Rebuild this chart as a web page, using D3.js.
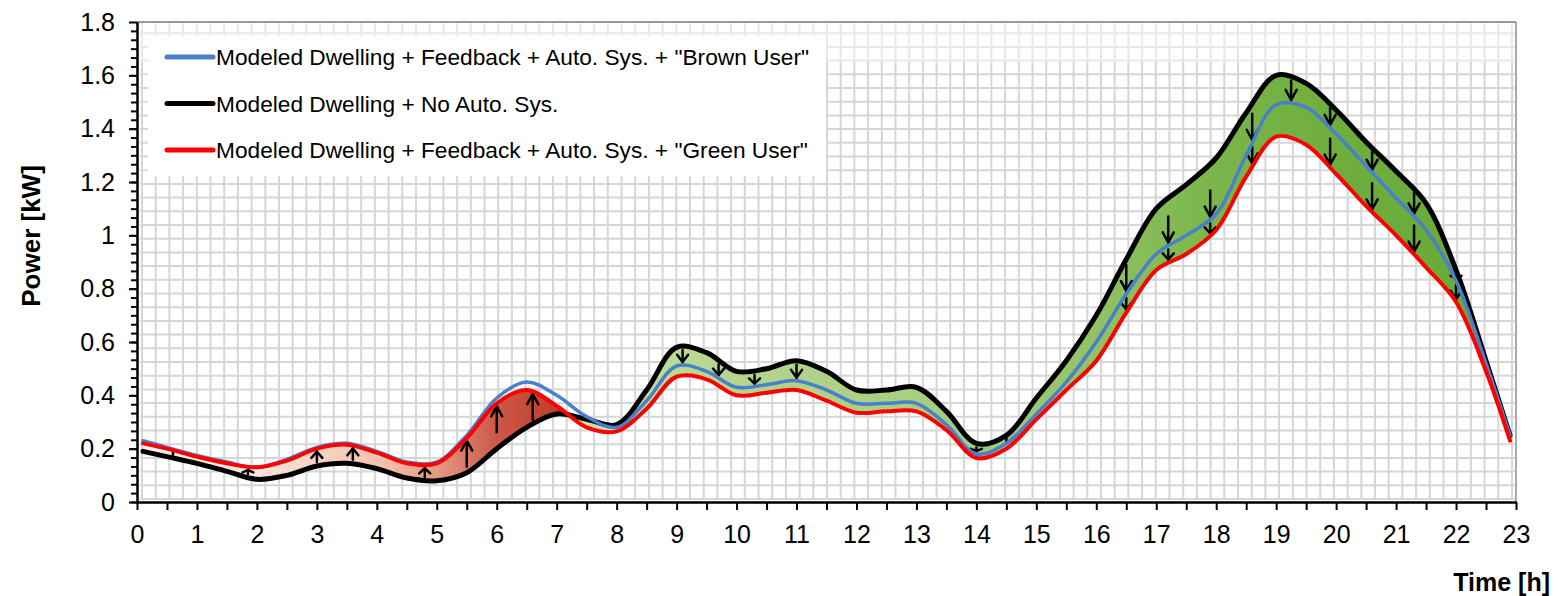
<!DOCTYPE html>
<html><head>
<meta charset="utf-8">
<script src="https://d3js.org/d3.v7.min.js"></script>
<style>
  body { margin: 0; background: #fff; }
  svg text { font-family: "Liberation Sans", Arial, sans-serif; fill: #000; }
  .axis .domain { stroke: #000; stroke-width: 2; }
  .axis line { stroke: #000; stroke-width: 2; }
  .axis text { font-size: 25px; }
  .paper line { stroke: #d6d6d6; stroke-width: 2; }
</style>
</head>
<body>
<svg id="chart" width="1558" height="596"></svg>
<script>

// --- data
const hours = [0.1, 0.5, 1, 1.5, 2, 2.5, 3, 3.5, 4, 4.5, 5, 5.5, 6, 6.5, 7, 7.5, 8, 8.5, 9, 9.5,
               10, 10.5, 11, 11.5, 12, 12.5, 13, 13.5, 14, 14.5, 15, 15.5, 16, 16.5, 17, 17.5,
               18, 18.5, 19, 19.5, 20, 20.5, 21, 21.5, 22, 22.5, 22.9];

// Modeled Dwelling + No Auto. Sys.
const noAuto = [0.19, 0.17, 0.145, 0.115, 0.085, 0.10, 0.135, 0.145, 0.125, 0.09, 0.08, 0.11, 0.20, 0.28, 0.33, 0.31,
                0.29, 0.42, 0.58, 0.56, 0.49, 0.50, 0.53, 0.49, 0.42, 0.42, 0.43, 0.34, 0.22, 0.25, 0.39, 0.53,
                0.70, 0.91, 1.10, 1.19, 1.29, 1.46, 1.60, 1.57, 1.47, 1.35, 1.24, 1.12, 0.87, 0.53, 0.25];

// ... + Feedback + Auto. Sys. + "Brown User"
const brownUser = [0.23, 0.205, 0.175, 0.15, 0.13, 0.16, 0.205, 0.22, 0.19, 0.15, 0.15, 0.25, 0.39, 0.45, 0.40, 0.32,
                   0.28, 0.38, 0.51, 0.49, 0.43, 0.44, 0.455, 0.42, 0.37, 0.37, 0.37, 0.29, 0.18, 0.22, 0.33, 0.45,
                   0.60, 0.78, 0.93, 1.00, 1.08, 1.30, 1.49, 1.48, 1.38, 1.26, 1.14, 1.02, 0.83, 0.52, 0.25];

// ... + Feedback + Auto. Sys. + "Green User"
const greenUser = [0.22, 0.20, 0.17, 0.145, 0.13, 0.155, 0.20, 0.215, 0.185, 0.145, 0.145, 0.24, 0.37, 0.42, 0.36, 0.28,
                   0.265, 0.35, 0.47, 0.46, 0.40, 0.41, 0.42, 0.38, 0.335, 0.34, 0.34, 0.27, 0.165, 0.20, 0.31, 0.42,
                   0.53, 0.71, 0.87, 0.93, 1.02, 1.22, 1.37, 1.34, 1.23, 1.11, 1.00, 0.88, 0.75, 0.49, 0.23];

const legendLabels = ['Modeled Dwelling + Feedback + Auto. Sys. + "Brown User"',
                      'Modeled Dwelling + No Auto. Sys.',
                      'Modeled Dwelling + Feedback + Auto. Sys. + "Green User"'];

const xTicks = d3.range(0, 24);                       // 0 .. 23
const xTickLabels = xTicks.map(String);
const yTicks = [0, 0.2, 0.4, 0.6, 0.8, 1, 1.2, 1.4, 1.6, 1.8];
const yTickLabels = ["0", "0.2", "0.4", "0.6", "0.8", "1", "1.2", "1.4", "1.6", "1.8"];

// arrow positions (hours)
const upArrows = [0.6, 1.85, 3.0, 3.6, 4.8, 5.5, 6.0, 6.6];
const downArrowsUpper = [9.1, 9.7, 10.3, 11.0, 14.0, 14.5, 16.5, 17.2, 17.9, 18.6, 19.25, 19.9, 20.6, 21.3, 22.0];
const downArrowsLower = [16.5, 17.2, 17.9, 18.6, 19.9, 20.6, 21.3, 22.0];

// --- setup
const svg = d3.select('svg#chart');
const margins = {top: 22, right: 42, bottom: 94, left: 137};
const width = +svg.attr('width');
const height = +svg.attr('height');

const xScale = d3.scaleLinear().domain([0, 23]).range([margins.left, width - margins.right]);
const yScale = d3.scaleLinear().domain([0, 1.8]).range([height - margins.bottom, margins.top]);

const x0 = xScale(0), x1 = xScale(23), yTop = yScale(1.8), yBot = yScale(0);

// graph paper background
const paper = svg.append('g').attr('class', 'paper');
const step = 13.7;
d3.range(x0 + 5, x1, step).forEach(px => {
  paper.append('line').attr('x1', px).attr('x2', px).attr('y1', yTop).attr('y2', yBot - 2);
});
d3.range(yBot - 3, yTop, -step).forEach(py => {
  paper.append('line').attr('x1', x0 + 3).attr('x2', x1).attr('y1', py).attr('y2', py);
});
// lighter band at top
svg.append('rect').attr('x', x0 + 2).attr('y', yTop).attr('width', x1 - x0 - 2).attr('height', 40)
   .attr('fill', '#fff').attr('opacity', 0.45);

// frame (top and right)
svg.append('line').attr('x1', x0).attr('x2', x1).attr('y1', yTop).attr('y2', yTop)
   .attr('stroke', '#999').attr('stroke-width', 2);
svg.append('line').attr('x1', x1).attr('x2', x1).attr('y1', yTop).attr('y2', yBot)
   .attr('stroke', '#aaa').attr('stroke-width', 2);

// --- fill gradient between the black and red curves
const defs = svg.append('defs');
const grad = defs.append('linearGradient').attr('id', 'bandFill')
   .attr('gradientUnits', 'userSpaceOnUse')
   .attr('x1', x0).attr('x2', x1).attr('y1', 0).attr('y2', 0);
const stops = [
  [0, '#fff4ef'], [2, '#fbe3d9'], [4, '#f3c4b0'], [5, '#e49a84'], [6, '#cc5846'], [6.9, '#c0402f'],
  [7.05, '#c0402f'], [7.1, '#c9e3ad'], [10, '#b3d58d'], [13, '#a8cf80'], [15.5, '#96c56c'],
  [18, '#7ab549'], [20, '#6fae3e'], [23, '#66a836']
];
stops.forEach(s => grad.append('stop').attr('offset', s[0] / 23).attr('stop-color', s[1]));

const rows = hours.map((h, i) => ({h: h, black: noAuto[i], blue: brownUser[i], red: greenUser[i]}));
const curve = d3.curveCatmullRom.alpha(0.5);

const area = d3.area()
  .x(d => xScale(d.h))
  .y0(d => yScale(d.black))
  .y1(d => yScale(d.red))
  .curve(curve);

svg.append('path').datum(rows).attr('d', area).attr('fill', 'url(#bandFill)');

// --- arrows
// sample a curve at a given hour by drawing an invisible path and searching along it
function makeSampler(key) {
  const line = d3.line().x(d => xScale(d.h)).y(d => yScale(d[key])).curve(curve);
  const p = svg.append('path').attr('d', line(rows)).attr('fill', 'none').attr('stroke', 'none').node();
  const len = p.getTotalLength();
  const pts = d3.range(0, len, 0.5).map(l => p.getPointAtLength(l));
  return function(h) {
    const px = xScale(h);
    const i = d3.bisector(d => d.x).left(pts, px);
    return pts[Math.min(i, pts.length - 1)].y;
  };
}
const yBlack = makeSampler('black');
const yBlue = makeSampler('blue');
const yRed = makeSampler('red');

const arrows = svg.append('g').attr('stroke', '#000').attr('stroke-width', 2.5).attr('fill', 'none')
                  .attr('stroke-linecap', 'round');

function drawArrow(h, yFrom, yTo) {
  const px = xScale(h);
  const dir = yTo > yFrom ? 1 : -1;
  const tip = yTo - dir * 3;
  let start = yFrom + dir * 4;
  if ((tip - start) * dir > 26) start = tip - dir * 26;   // arrows stay short
  if ((tip - start) * dir < 3) {
    arrows.append('line').attr('x1', px).attr('x2', px).attr('y1', yFrom + dir * 2).attr('y2', yFrom + dir * 6);
    return;
  }
  arrows.append('line').attr('x1', px).attr('x2', px).attr('y1', start).attr('y2', tip);
  const head = Math.min(10, Math.abs(tip - start) * 0.6);
  arrows.append('path')
    .attr('d', `M${px - 5.5},${tip - dir * head} L${px},${tip} L${px + 5.5},${tip - dir * head}`);
}

upArrows.forEach(h => drawArrow(h, yBlack(h), yRed(h)));
downArrowsUpper.forEach(h => drawArrow(h, yBlack(h), yBlue(h)));
downArrowsLower.forEach(h => drawArrow(h, yBlue(h), yRed(h)));

// --- lines
const series = [
  {key: 'black', color: '#000000', width: 5},
  {key: 'blue', color: '#4a7fcb', width: 3.5},
  {key: 'red', color: '#ff0000', width: 4}
];
series.forEach(s => {
  const line = d3.line().x(d => xScale(d.h)).y(d => yScale(d[s.key])).curve(curve);
  svg.append('path').datum(rows).attr('d', line)
     .attr('fill', 'none').attr('stroke', s.color).attr('stroke-width', s.width)
     .attr('stroke-linejoin', 'round').attr('stroke-linecap', 'round');
});

// --- axes
const bottomAxis = d3.axisBottom(xScale).tickValues(xTicks)
   .tickFormat((d, i) => xTickLabels[i]).tickSize(8).tickPadding(15).tickSizeOuter(0);
svg.append('g').attr('class', 'x axis')
   .attr('transform', `translate(0, ${yBot})`).call(bottomAxis);

const minorX = d3.axisBottom(xScale).tickValues(d3.range(0.5, 23, 1)).tickFormat('').tickSize(8).tickSizeOuter(0);
svg.append('g').attr('class', 'x axis minor')
   .attr('transform', `translate(0, ${yBot})`).call(minorX);

const leftAxis = d3.axisLeft(yScale).tickValues(yTicks)
   .tickFormat((d, i) => yTickLabels[i]).tickSize(8).tickPadding(14).tickSizeOuter(0);
svg.append('g').attr('class', 'y axis')
   .attr('transform', `translate(${x0}, 0)`).call(leftAxis);

const minorY = d3.axisLeft(yScale).tickValues(d3.range(0, 1.8, 0.2 / 6)).tickFormat('').tickSize(6).tickSizeOuter(0);
svg.append('g').attr('class', 'y axis minor')
   .attr('transform', `translate(${x0}, 0)`).call(minorY);

// axis titles
svg.append('text')
   .attr('transform', `translate(40, 236) rotate(-90)`)
   .attr('text-anchor', 'middle')
   .style('font-size', '26px').style('font-weight', 'bold')
   .text('Power [kW]');

svg.append('text')
   .attr('x', 1550).attr('y', 591)
   .attr('text-anchor', 'end')
   .style('font-size', '25px').style('font-weight', 'bold')
   .text('Time [h]');

// --- legend
const legend = svg.append('g');
legend.append('rect').attr('x', 148).attr('y', 36).attr('width', 678).attr('height', 140).attr('fill', '#fff');
const legendColors = ['#4a7fcb', '#000000', '#ff0000'];
legendLabels.forEach((lab, i) => {
  const ly = 57 + i * 46.5;
  legend.append('line').attr('x1', 167).attr('x2', 213).attr('y1', ly).attr('y2', ly)
        .attr('stroke', legendColors[i]).attr('stroke-width', 5).attr('stroke-linecap', 'round');
  legend.append('text').attr('x', 216).attr('y', ly + 8)
        .style('font-size', '22.7px').text(lab);
});

</script>
</body>
</html>
